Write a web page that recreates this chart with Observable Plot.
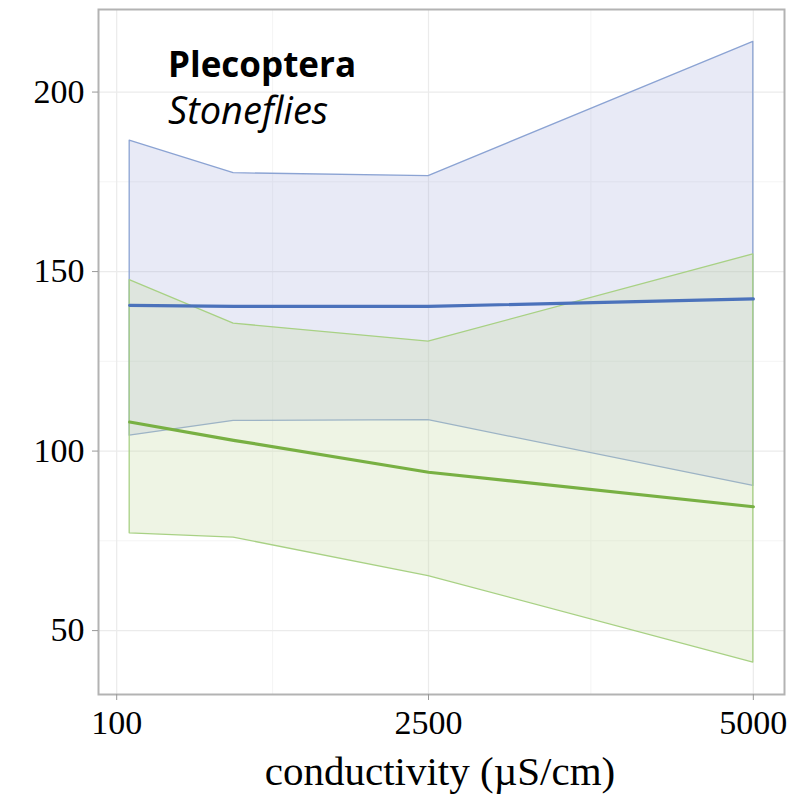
<!DOCTYPE html>
<html>
<head>
<meta charset="utf-8">
<script src="https://cdn.jsdelivr.net/npm/d3@7"></script>
<script src="https://cdn.jsdelivr.net/npm/@observablehq/plot@0.6"></script>
<style>
  html, body { margin: 0; padding: 0; background: #fff; }
  #wrap { position: relative; width: 788px; height: 803px; overflow: hidden; }
  .ann { position: absolute; white-space: nowrap; color: #000; }
</style>
</head>
<body>
<div id="wrap"></div>
<script>
// conductivity (µS/cm) sample points
const conductivity = [200, 1000, 2500, 5000];
// blue series (mean and confidence band)
const blueMean = [140.6, 140.3, 140.3, 142.4];
const blueLow  = [104.3, 108.4, 108.6, 90.3];
const blueHigh = [186.5, 177.4, 176.6, 214.0];
// green series (mean and confidence band)
const greenMean = [108.1, 103.0, 94.1, 84.5];
const greenLow  = [77.1, 75.9, 65.2, 41.1];
const greenHigh = [147.6, 135.5, 130.5, 154.8];
// axis ticks
const xTicks = [100, 2500, 5000];
const xMinor = [1300, 3750];
const yTicks = [50, 100, 150, 200];
const yMinor = [75, 125, 175];

const blue = conductivity.map((x, i) => ({x, mean: blueMean[i], lo: blueLow[i], hi: blueHigh[i]}));
const green = conductivity.map((x, i) => ({x, mean: greenMean[i], lo: greenLow[i], hi: greenHigh[i]}));

const plot = Plot.plot({
  width: 788,
  height: 803,
  marginLeft: 98,
  marginRight: 4,
  marginTop: 9,
  marginBottom: 109,
  style: {fontFamily: "'Liberation Serif', 'Times New Roman', serif", fontSize: "34px", color: "#000", background: "#fff", overflow: "visible"},
  x: {domain: [-40, 5240]},
  y: {domain: [32.2, 223.0]},
  marks: [
    Plot.gridX(xMinor, {stroke: "#f4f4f4", strokeOpacity: 1, strokeWidth: 1}),
    Plot.gridY(yMinor, {stroke: "#f4f4f4", strokeOpacity: 1, strokeWidth: 1}),
    Plot.gridX(xTicks, {stroke: "#ebebeb", strokeOpacity: 1, strokeWidth: 1.2}),
    Plot.gridY(yTicks, {stroke: "#ebebeb", strokeOpacity: 1, strokeWidth: 1.2}),
    Plot.areaY(blue, {x: "x", y1: "lo", y2: "hi", fill: "#8c96d2", fillOpacity: 0.2, stroke: "#8ba3d3", strokeWidth: 1.3}),
    Plot.areaY(green, {x: "x", y1: "lo", y2: "hi", fill: "#c6daa5", fillOpacity: 0.3, stroke: "#a8d184", strokeWidth: 1.3}),
    Plot.line(blue, {x: "x", y: "mean", stroke: "#4b72bb", strokeWidth: 3.2}),
    Plot.line(green, {x: "x", y: "mean", stroke: "#78b043", strokeWidth: 3.2}),
    Plot.frame({stroke: "#b3b3b3", strokeWidth: 2}),
    Plot.axisX(xTicks, {tickSize: 6, tickPadding: 9, stroke: "#999", fill: "#000", label: null, tickFormat: d => String(d)}),
    Plot.axisY(yTicks, {tickSize: 6, tickPadding: 8, stroke: "#999", fill: "#000", label: null, tickFormat: d => String(d)})
  ]
});
const wrap = document.getElementById("wrap");
wrap.appendChild(plot);

function ann(text, css) {
  const d = document.createElement("div");
  d.className = "ann";
  d.textContent = text;
  Object.assign(d.style, css);
  wrap.appendChild(d);
}
ann("Plecoptera", {left: "168px", top: "40px", font: "bold 35px 'Open Sans', sans-serif"});
ann("Stoneflies", {left: "168px", top: "83px", font: "italic 38px 'Open Sans', sans-serif"});
ann("conductivity (µS/cm)", {left: "0px", width: "788px", textAlign: "center", top: "747px", paddingLeft: "92px", boxSizing: "border-box", font: "41px 'Liberation Serif', 'Times New Roman', serif"});
</script>
</body>
</html>
